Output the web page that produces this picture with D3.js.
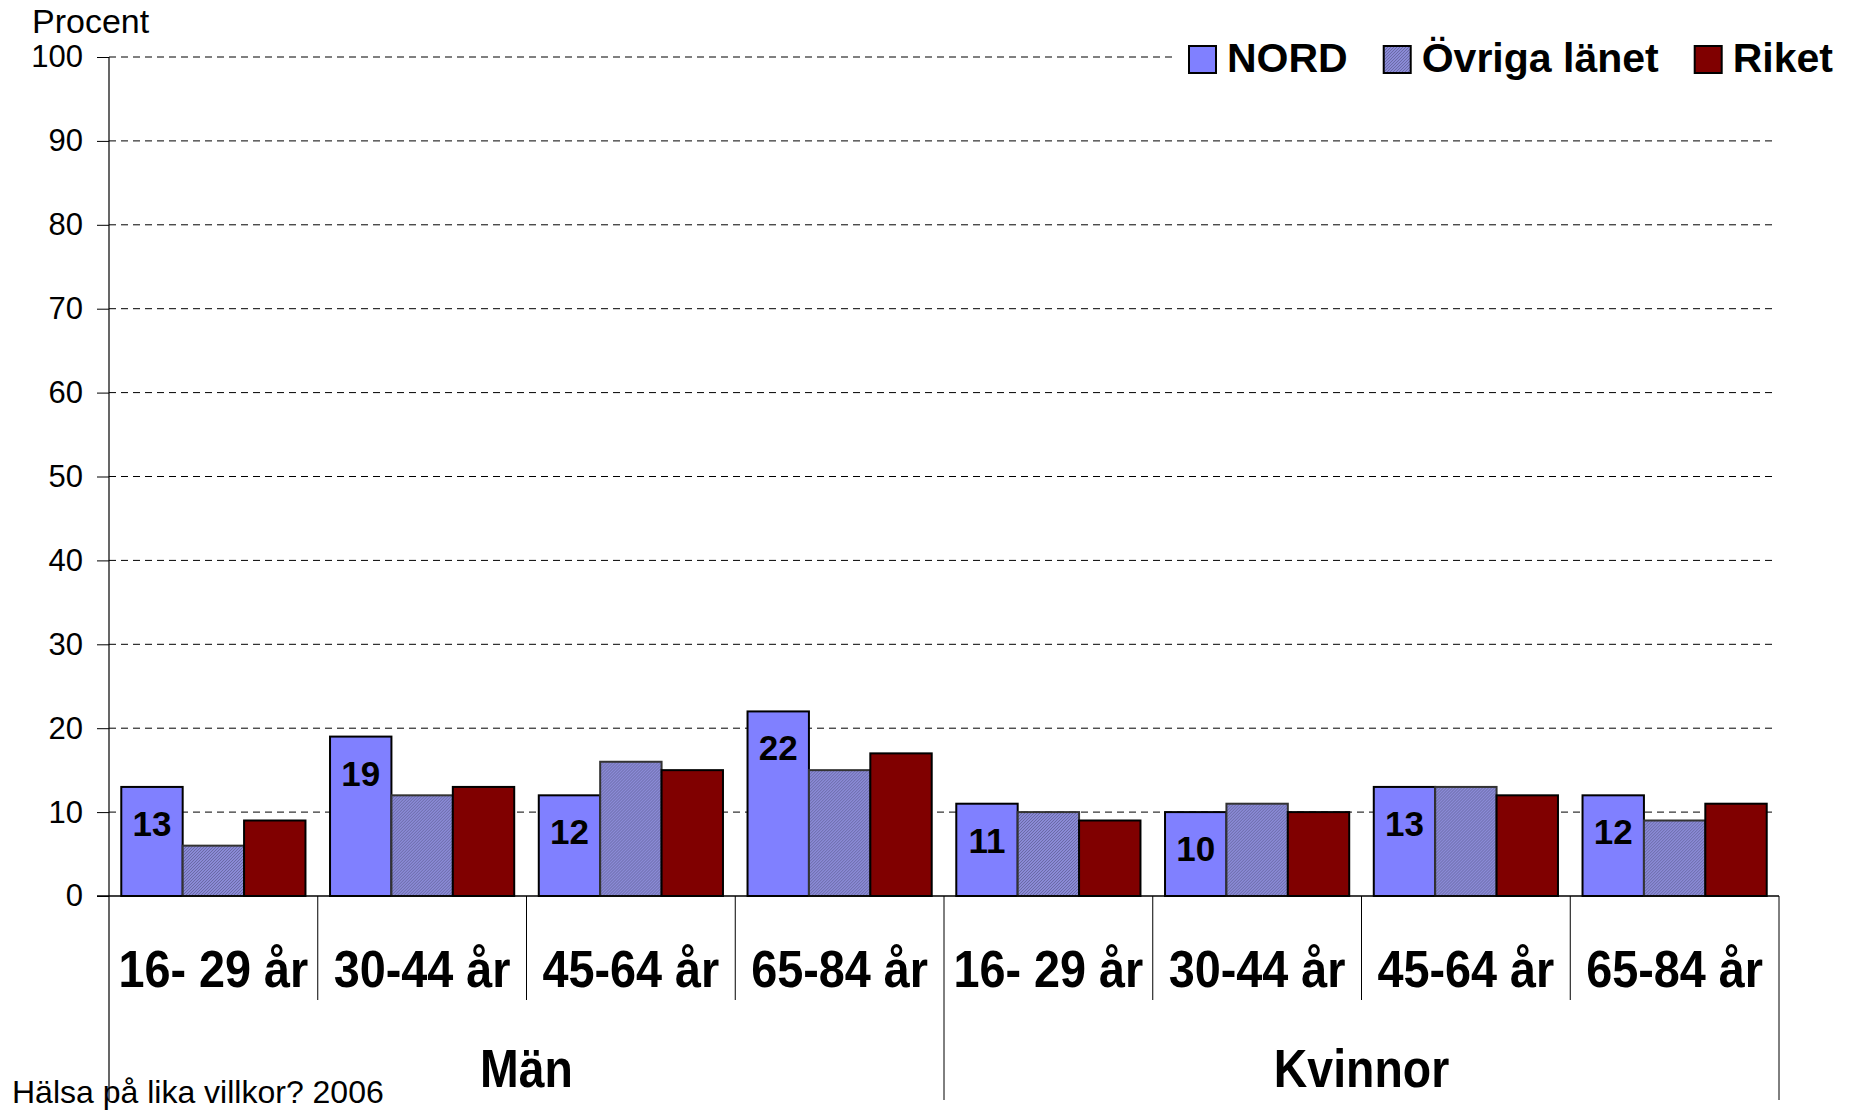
<!DOCTYPE html>
<html>
<head>
<meta charset="utf-8">
<script src="https://cdn.jsdelivr.net/npm/d3@7"></script>
<style>
    body{ margin:0; background:#fff; }
    svg text{ font-family:"Liberation Sans", Arial, sans-serif; fill:#000; }
</style>
</head>
<body>
<script>
// data
const groups = ['Män', 'Kvinnor'];
const ageGroups = ['16- 29 år', '30-44 år', '45-64 år', '65-84 år'];
const seriesNames = ['NORD', 'Övriga länet', 'Riket'];
const nord   = [13, 19, 12, 22, 11, 10, 13, 12];
const ovriga = [ 6, 12, 16, 15, 10, 11, 13,  9];
const riket  = [ 9, 13, 15, 17,  9, 10, 12, 11];
const yTicks = [0, 10, 20, 30, 40, 50, 60, 70, 80, 90, 100];

const width = 1856, height = 1111;
const plotLeft = 109, plotRight = 1779, plotTop = 57, plotBottom = 896;

// rows: one per category (group x age)
const rows = [];
groups.forEach((g, gi) => ageGroups.forEach((a, ai) => {
    const i = gi*ageGroups.length + ai;
    rows.push({key: g + '|' + a, group: g, age: a, values: [nord[i], ovriga[i], riket[i]]});
}));

const svg = d3.select('body').append('svg')
    .attr('width', width).attr('height', height);

// pattern for "Övriga länet"
const defs = svg.append('defs');
const pat = defs.append('pattern').attr('id', 'hatch')
    .attr('patternUnits', 'userSpaceOnUse').attr('width', 3).attr('height', 3);
pat.append('rect').attr('width', 3).attr('height', 3).attr('fill', '#8a8ad6');
pat.append('path').attr('d', 'M0,3 L3,0 M-1,1 L1,-1 M2,4 L4,2')
    .attr('stroke', '#6a6aa6').attr('stroke-width', 1);

const fills = ['#8080ff', 'url(#hatch)', '#800000'];
const strokes = ['#000', '#333', '#000'];

// scales
const x0 = d3.scaleBand().domain(rows.map(d => d.key)).range([plotLeft, plotRight]).padding(0);
const x1 = d3.scaleBand().domain(seriesNames).range([0, x0.bandwidth()])
    .paddingInner(0).paddingOuter(0.2);
const y = d3.scaleLinear().domain([0, 100]).range([plotBottom, plotTop]);

// gridlines
svg.append('g').selectAll('line.grid')
    .data(yTicks.filter(t => t > 0))
    .join('line')
    .classed('grid', true)
    .attr('x1', plotLeft).attr('x2', plotRight - 3)
    .attr('y1', d => y(d)).attr('y2', d => y(d))
    .attr('stroke', '#000').attr('stroke-width', 1)
    .attr('stroke-dasharray', '7,5');

// bars
const cat = svg.append('g').selectAll('g.cat')
    .data(rows)
    .join('g')
    .classed('cat', true)
    .attr('transform', d => `translate(${x0(d.key)},0)`);

cat.selectAll('rect.bar')
    .data(d => d.values.map((v, i) => ({s: seriesNames[i], i, v})))
    .join('rect')
    .classed('bar', true)
    .attr('x', d => x1(d.s))
    .attr('y', d => y(d.v))
    .attr('width', x1.bandwidth())
    .attr('height', d => y(0) - y(d.v))
    .attr('fill', d => fills[d.i])
    .attr('stroke', d => strokes[d.i])
    .attr('stroke-width', 2);

// value labels (NORD only)
cat.append('text')
    .attr('x', d => x1('NORD') + x1.bandwidth()/2)
    .attr('y', d => y(d.values[0]) + 49)
    .attr('text-anchor', 'middle')
    .style('font-size', '35px').style('font-weight', 'bold')
    .text(d => d.values[0]);

// y axis
const yAxis = svg.append('g')
    .attr('transform', `translate(${plotLeft},0)`)
    .call(d3.axisLeft(y).tickValues(yTicks).tickSize(12).tickPadding(14));
yAxis.select('.domain').remove();
yAxis.selectAll('.tick line').attr('stroke', '#000');
yAxis.selectAll('.tick text')
    .style('font-size', '31px')
    .style('font-family', '"Liberation Sans", Arial, sans-serif');

svg.append('line')
    .attr('x1', plotLeft).attr('x2', plotLeft)
    .attr('y1', plotTop).attr('y2', 1100)
    .attr('stroke', '#000').attr('stroke-width', 1.2);

// x axis baseline
svg.append('line')
    .attr('x1', plotLeft - 12).attr('x2', plotRight)
    .attr('y1', y(0)).attr('y2', y(0))
    .attr('stroke', '#000').attr('stroke-width', 1.5);

// category separators
const bounds = rows.map(d => x0(d.key)).concat([plotRight]);
svg.append('g').selectAll('line.sep')
    .data(bounds.slice(1))
    .join('line')
    .classed('sep', true)
    .attr('x1', d => d).attr('x2', d => d)
    .attr('y1', y(0))
    .attr('y2', (d, i) => (i === 3 || i === 7) ? 1100 : 1000)
    .attr('stroke', '#000').attr('stroke-width', 1);

// category labels
svg.append('g').selectAll('text.age')
    .data(rows)
    .join('text')
    .classed('age', true)
    .attr('transform', d => `translate(${x0(d.key) + x0.bandwidth()/2},987) scale(0.9,1)`)
    .attr('text-anchor', 'middle')
    .style('font-size', '52px').style('font-weight', 'bold')
    .text(d => d.age);

// group labels
svg.append('g').selectAll('text.group')
    .data(groups)
    .join('text')
    .classed('group', true)
    .attr('transform', (d, gi) => {
        const a = x0(rows[gi*4].key), b = x0(rows[gi*4 + 3].key) + x0.bandwidth();
        return `translate(${(a + b)/2},1087) scale(0.86,1)`;
    })
    .attr('text-anchor', 'middle')
    .style('font-size', '54px').style('font-weight', 'bold')
    .text(d => d);

// axis title
svg.append('text')
    .attr('x', 32).attr('y', 33)
    .style('font-size', '34px')
    .text('Procent');

// footer
svg.append('text')
    .attr('x', 12).attr('y', 1103)
    .style('font-size', '32px')
    .text('Hälsa på lika villkor? 2006');

// legend
svg.append('rect')
    .attr('x', 1172).attr('y', 28).attr('width', 684).attr('height', 60)
    .attr('fill', '#fff');
const legend = svg.append('g').attr('transform', 'translate(1189,0)');
let lx = 0;
seriesNames.forEach((s, i) => {
    legend.append('rect')
        .attr('x', lx).attr('y', 46).attr('width', 27).attr('height', 27)
        .attr('fill', fills[i]).attr('stroke', '#000').attr('stroke-width', 2);
    const t = legend.append('text')
        .attr('x', lx + 38).attr('y', 72)
        .style('font-size', '41px').style('font-weight', 'bold')
        .text(s);
    lx += 38 + t.node().getComputedTextLength() + 36;
});
</script>
</body>
</html>
